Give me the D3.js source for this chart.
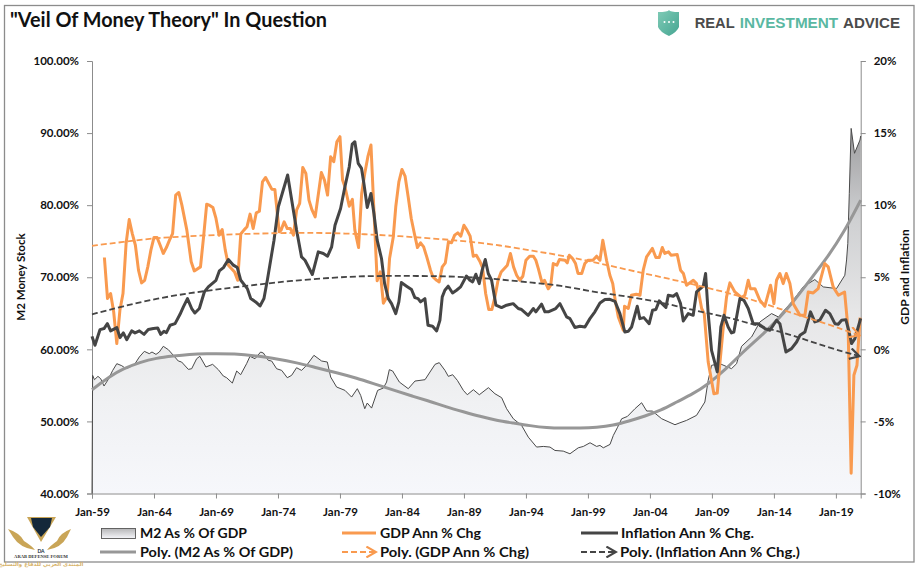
<!DOCTYPE html>
<html>
<head>
<meta charset="utf-8">
<script src="https://cdn.jsdelivr.net/npm/d3@7/dist/d3.min.js"></script>
<style>
  html, body { margin: 0; padding: 0; background: #fff; }
  text { font-family: Lato, "Noto Sans", sans-serif; font-weight: 700; fill: #111; }
</style>
</head>
<body>
<svg id="chart" width="924" height="569"></svg>
<script>
// values, x is decimal year
const m2Years = [1959,1959.05,1959.2,1959.48,1959.7,1959.97,1960.3,1960.67,1961,1961.4,1961.74,1962.06,1962.47,1962.82,1963.22,1963.62,1963.84,1964.16,1964.43,1964.75,1965.16,1965.56,1965.96,1966.23,1966.77,1967.04,1967.44,1967.7,1968.19,1968.73,1969.19,1969.59,1969.86,1970.32,1970.67,1970.99,1971.47,1971.74,1972.15,1972.6,1972.82,1973.22,1973.49,1973.89,1974.3,1974.75,1975.1,1975.5,1975.9,1976.31,1976.9,1977.52,1977.98,1978.25,1978.73,1979.4,1979.94,1980.4,1980.67,1981,1981.2,1981.55,1982.04,1982.5,1982.76,1982.98,1983.25,1983.79,1984.51,1985.05,1985.86,1986.26,1986.67,1987.01,1987.47,1987.74,1988.09,1988.47,1988.95,1989.27,1989.76,1990.24,1990.97,1991.5,1992.04,1992.44,1992.98,1993.65,1994.19,1994.86,1995.4,1995.94,1996.34,1997.01,1997.55,1998.22,1998.63,1999.17,1999.7,1999.97,2000.24,2000.78,2001.05,2001.37,2001.72,2002.18,2002.79,2003.33,2003.74,2004.19,2004.95,2006.02,2006.42,2006.95,2007.76,2008.43,2008.7,2008.97,2009.64,2010.58,2010.99,2011.39,2012.2,2012.87,2013.81,2014.35,2015.56,2016.36,2017.3,2017.98,2019.05,2019.72,2019.86,2019.96,2020.08,2020.23,2020.5,2020.94,2021];
const m2Values = [40,56.39,55.79,56.25,55.93,54.91,55.79,57.08,58.01,57.73,57.31,57.55,58.01,58.94,59.72,59.4,59.63,59.3,59.63,60.42,59.95,59.17,58.38,58.24,57.22,57.31,58.7,59.03,57.55,57.92,57.18,56.3,56.06,55.32,56.99,56.48,58.01,59.03,58.7,59.63,59.49,58.47,58.38,57.31,57.08,56.06,56.39,57.45,57.08,57.78,59.17,58.38,58.24,56.16,54.77,54.31,53.38,54.54,53.61,51.76,52.55,51.85,54.31,54.63,55.46,57.18,56.99,55.46,54.54,55.6,55.79,56.85,57.92,58.15,57.08,56.25,56.48,55.69,54.31,53.7,54.4,53.7,54.68,53.84,53.29,51.76,50.37,49.44,47.82,46.44,46.53,46.44,45.97,45.88,45.51,46.34,46.53,47.04,46.53,46.67,46.34,46.81,48.06,49.12,50.37,50.69,51.76,52.59,51.44,51.44,50.37,49.54,49.81,50.14,50.84,52.69,55.7,57.78,58.01,57.32,58.01,60.42,61.72,63.8,64.96,64.5,66.81,68.66,69.68,68.66,68.43,70.28,72.4,74.7,81.6,90.65,87.2,89.03,89.6];

const gdpYears = [1960,1960.25,1960.5,1960.75,1961,1961.25,1961.5,1961.75,1962,1962.25,1962.5,1962.75,1963,1963.25,1963.5,1963.75,1964,1964.25,1964.5,1964.75,1965,1965.25,1965.5,1965.75,1966,1966.25,1966.65,1967,1967.25,1967.75,1968,1968.25,1968.5,1968.75,1969,1969.25,1969.5,1969.75,1970,1970.5,1970.75,1971,1971.25,1971.5,1971.75,1972,1972.25,1972.5,1972.75,1973,1973.5,1973.75,1974,1974.1,1974.25,1974.5,1974.75,1975,1975.25,1975.5,1975.75,1976,1976.25,1976.5,1976.75,1977,1977.5,1977.75,1978,1978.25,1978.5,1978.75,1979,1979.21,1979.4,1979.75,1980,1980.2,1980.5,1980.75,1981,1981.25,1981.5,1981.75,1982,1982.25,1982.5,1982.8,1983,1983.3,1983.5,1983.75,1984,1984.25,1984.5,1984.75,1985,1985.25,1985.5,1985.75,1986,1986.3,1986.5,1986.8,1987,1987.25,1987.5,1987.75,1988,1988.25,1988.5,1988.75,1989,1989.25,1989.5,1989.75,1990,1990.3,1990.5,1990.75,1991,1991.25,1991.5,1991.75,1992,1992.5,1992.75,1993,1993.25,1993.5,1993.75,1994,1994.3,1994.6,1994.8,1995,1995.3,1995.5,1995.8,1996,1996.2,1996.5,1996.7,1997.15,1997.33,1997.5,1997.76,1998,1998.2,1998.5,1998.75,1999,1999.4,1999.7,1999.97,2000.2,2000.5,2000.77,2001,2001.2,2001.45,2001.85,2001.95,2002.25,2002.5,2002.9,2003.2,2003.46,2003.73,2004.2,2004.48,2004.75,2005,2005.2,2005.5,2005.7,2006.2,2006.47,2006.7,2006.95,2007.5,2007.76,2007.9,2008.17,2008.38,2008.7,2009.16,2009.43,2009.64,2009.97,2010.18,2010.45,2010.85,2011.4,2011.66,2011.93,2012.1,2012.47,2012.87,2013.27,2013.73,2014,2014.21,2014.48,2014.75,2015,2015.29,2015.56,2016.1,2016.5,2016.77,2017.17,2017.57,2018.1,2018.38,2018.78,2019.2,2019.7,2019.99,2020.23,2020.45,2020.7,2020.95];
const gdpValues = [6.37,3.52,3.87,2.59,0.4,2.71,3.87,7.34,9,8.03,7.22,5.49,4.61,4.79,5.72,6.88,7.76,7.76,7.22,6.65,7.06,7.57,8.03,10.7,10.88,10,8.27,6.07,5.44,5.72,7.8,10.07,9.98,9.84,9.08,7.92,8.31,6.88,5.84,5.37,4.79,8,8.27,8.5,9.38,8.38,9.47,9.58,11.62,11.92,11.11,11.09,8.96,8.15,8.27,8.84,8.38,8.38,7.92,9.65,10.12,12.62,12.2,10.35,9.65,9.19,12.27,11.74,10.7,13.36,13.01,14.4,14.75,11.74,11.28,9.93,10.4,8.27,7.06,10.81,12.2,13.36,14.17,9.42,4.75,5.37,3.2,3.64,6.3,7.8,9.89,11.62,12.48,12.02,10.58,9.08,8.03,7.06,7.39,7.11,6.41,5.49,5.02,4.79,4.68,5.72,6,7.46,7.39,7.92,8.08,7.85,8.61,8.27,7.85,6.46,6.53,6.07,5.67,3.87,2.76,2.76,3.64,4.79,5.37,5.84,6.65,5.72,5.14,4.79,5.07,6.18,6.46,6.46,6.18,5.6,4.61,4.79,4.2,4.45,5.95,5.84,6.23,6.18,6,6.53,6.3,5.95,5.26,5.26,5.95,6.18,6.18,6.46,6.18,7.57,6.18,5.14,4.56,3.4,2.25,1.32,2.99,2.83,3.75,3.82,3.75,5.49,6.41,7,6.37,6.37,7.06,6.65,6.76,6.53,6.58,5.49,5.26,4.45,4.79,4.56,4.1,2.83,2.48,-0.88,-3.08,-3.03,-0.99,2.02,3.64,4.61,3.98,3.59,3.75,4.79,4.21,4.21,3.4,2.99,4.45,3.17,4.79,5.26,4.56,5.26,4.56,3.17,2.36,2.36,3.98,3.91,4.21,5.95,5.72,4.33,3.75,3.98,1.32,-8.6,-1.8,-1.1,2.2];

const inflYears = [1959,1959.24,1959.65,1959.97,1960.24,1960.5,1961,1961.26,1961.53,1961.8,1962.2,1962.47,1962.82,1963.2,1963.54,1963.95,1964.3,1964.54,1964.8,1965,1965.3,1965.7,1966.1,1966.37,1966.7,1967.04,1967.3,1967.66,1968.06,1968.38,1969,1969.27,1969.6,1970,1970.4,1970.72,1971,1971.53,1971.8,1972.2,1972.55,1972.87,1973.14,1973.68,1974.03,1974.78,1975.24,1975.5,1975.9,1976.18,1976.77,1977.25,1977.66,1978,1978.33,1978.6,1979.05,1979.4,1979.75,1979.99,1980.2,1980.47,1980.74,1980.93,1981.2,1981.5,1981.74,1982,1982.35,1982.6,1982.9,1983.16,1983.5,1983.75,1983.95,1984.37,1984.77,1985.04,1985.3,1985.5,1985.85,1986.1,1986.47,1986.8,1987.06,1987.25,1987.46,1987.73,1988.08,1988.4,1988.73,1989.2,1989.48,1989.7,1989.96,1990.23,1990.47,1990.72,1990.96,1991.23,1991.58,1992.03,1992.44,1992.97,1993.38,1993.65,1994.18,1994.6,1994.8,1995.26,1995.53,1995.8,1996.4,1996.74,1997.28,1997.55,1997.95,1998.35,1998.76,1999.16,1999.56,1999.97,2000.37,2000.77,2001.18,2001.58,2001.98,2002.25,2002.52,2002.98,2003.19,2003.51,2003.94,2004.21,2004.48,2004.75,2005.29,2005.48,2005.88,2006.15,2006.47,2006.69,2007.09,2007.49,2007.76,2008.3,2008.49,2008.7,2008.97,2009.43,2009.72,2009.97,2010.31,2010.58,2010.77,2011.26,2011.58,2011.93,2012.33,2012.73,2013.27,2013.68,2014.21,2014.48,2014.97,2015.42,2015.83,2016.1,2016.5,2016.77,2016.95,2017.3,2017.7,2018.16,2018.51,2018.92,2019.19,2019.46,2019.8,2020.07,2020.26,2020.53,2020.8,2021];
const inflValues = [0.9,0.28,1.37,1.44,1.78,1.28,1.51,0.81,1.14,0.67,1.28,1.14,1.28,1.04,1.37,1.44,1.48,1.04,1.25,1.16,1.67,1.78,2.43,2.94,3.52,2.83,2.52,2.83,3.98,4.33,4.79,5.44,5.67,6.23,5.84,5.67,4.79,4.21,3.52,3.29,3.01,3.52,4.79,7.57,9.89,12.09,9.65,8.27,6.41,6.18,5.19,6.76,6.65,6.46,7.11,8.61,9.77,11.28,12.66,14.24,14.4,12.9,12.55,11.5,9.84,10.81,9.42,7.57,6.3,4.56,3.52,3.17,2.48,3.29,4.63,4.38,4.15,3.59,3.52,3.29,3.52,1.67,1.6,1.28,2.01,3.64,4.1,4.38,3.91,4.1,4.33,5.09,4.79,4.68,5.21,4.56,5.49,6.23,5.26,4.79,3.06,2.9,3.06,3.17,2.83,2.76,2.36,2.83,2.6,3.13,2.6,2.6,2.83,3.17,2.25,2.13,1.51,1.6,1.55,2.13,2.6,3.22,3.45,3.47,3.33,2.48,1.2,1.25,1.55,2.99,2.13,2.2,1.78,2.71,2.76,3.36,2.9,3.75,3.68,3.87,3.17,1.97,2.48,2.36,3.98,4.38,5.26,2.48,-0.07,-1.57,1.55,2.36,1.55,1.14,1.2,3.52,3.4,2.83,1.78,1.78,1.44,1.32,2.02,1.78,-0.18,0.05,0.51,0.97,1.2,2.02,2.6,1.9,2.02,2.71,2.48,1.78,1.74,2.02,2.06,1.2,0.4,0.74,1.55,2.15];

// trend lines, traced by eye too
const m2PolyYears = [1959,1960.45,1961.5,1962.87,1964.2,1965.56,1966.9,1968,1970.67,1972.3,1973.9,1975.5,1977.1,1978.73,1980.34,1981.96,1983.57,1984.9,1986.26,1987.6,1988.95,1990.3,1991.64,1993,1994.33,1995.67,1997,1998.36,1999.7,2001.05,2002.3,2003.6,2004.9,2006.15,2007.49,2008.57,2010.18,2011.5,2012.87,2014.21,2015.56,2016.9,2018.25,2019.6,2021];
const m2PolyValues = [54.4,56.25,57.3,58.2,58.8,59.07,59.3,59.4,59.4,59.07,58.7,58.15,57.45,56.76,56.02,55.09,54.21,53.47,52.78,52,51.34,50.69,50.14,49.77,49.4,49.12,49.07,49.07,49.17,49.44,50.05,50.74,51.53,52.69,53.85,55,57.32,59.63,61.72,63.9,66.58,69.59,72.6,76.07,80.7];

const gdpPolyYears = [1959,1961.5,1964.2,1966.9,1969.6,1972.3,1975,1977.7,1981.1,1983.8,1986.5,1989.2,1991.9,1994.6,1996.74,1999.43,2002.1,2004.8,2007.5,2010.18,2012.87,2015.56,2018.25,2020.9];
const gdpPolyValues = [7.18,7.45,7.73,7.85,7.96,8.03,8.08,8.08,7.99,7.85,7.69,7.5,7.22,6.83,6.53,6.07,5.53,5.04,4.5,3.95,3.29,2.48,1.78,0.97];

const inflPolyYears = [1959,1961.5,1964.2,1966.9,1969.6,1972.3,1975,1978.46,1981.1,1983.8,1986.5,1989.2,1991.9,1994.6,1996.74,1999.43,2002.1,2004.8,2007.5,2010.18,2012.87,2015.56,2018.25,2020.9];
const inflPolyValues = [2.43,2.99,3.52,3.91,4.21,4.49,4.75,4.98,5.09,5.09,5.09,5.02,4.86,4.61,4.45,3.98,3.68,3.29,2.71,2.25,1.6,0.97,0.16,-0.48];

const xTickYears = [1959,1964,1969,1974,1979,1984,1989,1994,1999,2004,2009,2014,2019];
const xTickLabels = ['Jan-59','Jan-64','Jan-69','Jan-74','Jan-79','Jan-84','Jan-89','Jan-94','Jan-99','Jan-04','Jan-09','Jan-14','Jan-19'];
const leftTicks = [40,50,60,70,80,90,100];
const rightTicks = [-10,-5,0,5,10,15,20];

const ORANGE = '#f99a4f', DARK = '#454545', GREY = '#979797', AXIS = '#8c8c8c';

const svg = d3.select('#chart');
const x = d3.scaleLinear().domain([1959, 2021]).range([92, 860.7]);
const yLeft = d3.scaleLinear().domain([40, 100]).range([493.5, 61]);
const yRight = d3.scaleLinear().domain([-10, 20]).range([493.5, 61]);

// outer frame
svg.append('rect').attr('x', 4.5).attr('y', 5.5).attr('width', 909.5).attr('height', 556.5)
  .attr('fill', '#fff').attr('stroke', AXIS).attr('stroke-width', 1.3);

const defs = svg.append('defs');
const grad = defs.append('linearGradient').attr('id', 'areaFill')
  .attr('gradientUnits', 'userSpaceOnUse').attr('x1', 0).attr('x2', 0).attr('y1', 128).attr('y2', 493.5);
[[0, '#9d9d9f'], [0.25, '#cfd0d2'], [0.5, '#e6e6e7'], [0.75, '#f0f1f3'], [1, '#f6f7fb']].forEach(s => {
  grad.append('stop').attr('offset', s[0]).attr('stop-color', s[1]);
});
const swatchGrad = defs.append('linearGradient').attr('id', 'swatchFill').attr('x1', 0).attr('x2', 0).attr('y1', 0).attr('y2', 1);
[[0, '#b5b5b7'], [1, '#f6f7fb']].forEach(s => {
  swatchGrad.append('stop').attr('offset', s[0]).attr('stop-color', s[1]);
});
function arrowMarker(id, color) {
  defs.append('marker').attr('id', id).attr('viewBox', '0 0 10 10').attr('refX', 9).attr('refY', 5)
    .attr('markerUnits', 'userSpaceOnUse').attr('markerWidth', 13).attr('markerHeight', 12).attr('orient', 'auto')
    .append('path').attr('d', 'M1,0.5 L9,5 L1,9.5').attr('fill', 'none').attr('stroke', color).attr('stroke-width', 1.8);
}
arrowMarker('arrowOrange', ORANGE);
arrowMarker('arrowDark', DARK);

function zip(xs, ys) { return xs.map((d, i) => [d, ys[i]]); }
const lineOn = (scale, curve) => d3.line().x(d => x(d[0])).y(d => scale(d[1])).curve(curve || d3.curveLinear);

// M2 area
const m2Data = zip(m2Years, m2Values);
svg.append('path').datum(m2Data)
  .attr('d', d3.area().x(d => x(d[0])).y0(yLeft(40)).y1(d => yLeft(d[1])))
  .attr('fill', 'url(#areaFill)');

// axes
function styleAxis(g) {
  g.selectAll('path, line').attr('stroke', AXIS).attr('stroke-width', 1);
}
const axisBottom = d3.axisBottom(x).tickValues(xTickYears).tickSizeOuter(0).tickSize(5)
  .tickFormat((d, i) => xTickLabels[i]);
svg.append('g').attr('transform', 'translate(0,493.5)').call(axisBottom).call(styleAxis)
  .selectAll('text').attr('dy', 0).attr('y', 22).style('font-size', '11.5px').style('font-family', 'Lato').style('font-weight', 700);
const axisLeft = d3.axisLeft(yLeft).tickValues(leftTicks).tickSizeOuter(0).tickSize(5).tickFormat(d => d.toFixed(2) + '%');
svg.append('g').attr('transform', 'translate(92,0)').call(axisLeft).call(styleAxis)
  .selectAll('text').attr('x', -13).style('font-size', '11.5px').style('font-family', 'Lato').style('font-weight', 700);
const axisRight = d3.axisRight(yRight).tickValues(rightTicks).tickSizeOuter(0).tickSize(5).tickFormat(d => d + '%');
svg.append('g').attr('transform', 'translate(860.7,0)').call(axisRight).call(styleAxis)
  .selectAll('text').attr('x', 13).style('font-size', '11.5px').style('font-family', 'Lato').style('font-weight', 700);

// series
svg.append('path').datum(m2Data).attr('d', lineOn(yLeft))
  .attr('fill', 'none').attr('stroke', '#4a4a4a').attr('stroke-width', 1);
svg.append('path').datum(zip(m2PolyYears, m2PolyValues)).attr('d', lineOn(yLeft, d3.curveBasis))
  .attr('fill', 'none').attr('stroke', GREY).attr('stroke-width', 3);
svg.append('path').datum(zip(gdpYears, gdpValues)).attr('d', lineOn(yRight))
  .attr('fill', 'none').attr('stroke', ORANGE).attr('stroke-width', 3).attr('stroke-linejoin', 'round');
svg.append('path').datum(zip(inflYears, inflValues)).attr('d', lineOn(yRight))
  .attr('fill', 'none').attr('stroke', DARK).attr('stroke-width', 3).attr('stroke-linejoin', 'round');
svg.append('path').datum(zip(gdpPolyYears, gdpPolyValues)).attr('d', lineOn(yRight, d3.curveBasis))
  .attr('fill', 'none').attr('stroke', ORANGE).attr('stroke-width', 1.8).attr('stroke-dasharray', '6 3')
  .attr('marker-end', 'url(#arrowOrange)');
svg.append('path').datum(zip(inflPolyYears, inflPolyValues)).attr('d', lineOn(yRight, d3.curveBasis))
  .attr('fill', 'none').attr('stroke', DARK).attr('stroke-width', 1.8).attr('stroke-dasharray', '6 3')
  .attr('marker-end', 'url(#arrowDark)');

// titles
svg.append('text').attr('x', 10).attr('y', 27).attr('textLength', 317).attr('lengthAdjust', 'spacingAndGlyphs')
  .style('font-size', '20px').text('"Veil Of Money Theory" In Question');
svg.append('text').attr('transform', 'translate(25,277) rotate(-90)').attr('text-anchor', 'middle')
  .style('font-size', '11.5px').text('M2 Money Stock');
svg.append('text').attr('transform', 'translate(909,277) rotate(-90)').attr('text-anchor', 'middle')
  .style('font-size', '12px').text('GDP and Inflation');

// legend, widths measured on the reference
const legendText = [
  ['M2 As % Of GDP', 140, 538, 107], ['GDP Ann % Chg', 380, 538, 101], ['Inflation Ann % Chg.', 621, 538, 133],
  ['Poly. (M2 As % Of GDP)', 140, 557, 153], ['Poly. (GDP Ann % Chg)', 380, 557, 149], ['Poly. (Inflation Ann % Chg.)', 620, 557, 180]
];
legendText.forEach(d => {
  svg.append('text').attr('x', d[1]).attr('y', d[2]).attr('textLength', d[3]).attr('lengthAdjust', 'spacingAndGlyphs')
    .style('font-size', '14px').text(d[0]);
});
svg.append('rect').attr('x', 101.5).attr('y', 528.5).attr('width', 34).attr('height', 10)
  .attr('fill', 'url(#swatchFill)').attr('stroke', '#555').attr('stroke-width', 0.9);
function legendLine(x1, x2, y, color, w, dashed, marker) {
  const l = svg.append('line').attr('x1', x1).attr('x2', x2).attr('y1', y).attr('y2', y)
    .attr('stroke', color).attr('stroke-width', w);
  if (dashed) l.attr('stroke-dasharray', '6 3');
  if (marker) l.attr('marker-end', marker);
}
legendLine(342, 376, 533, ORANGE, 3);
legendLine(581, 618, 533, DARK, 3);
legendLine(100, 136, 552, GREY, 3);
legendLine(342, 376, 552, ORANGE, 1.8, true, 'url(#arrowOrange)');
legendLine(581, 616, 552, DARK, 1.8, true, 'url(#arrowDark)');

// Real Investment Advice logo
const logoGrad = defs.append('linearGradient').attr('id', 'logoFill').attr('x1', 0).attr('x2', 1).attr('y1', 0).attr('y2', 1);
[[0, '#7fcbb6'], [1, '#46a592']].forEach(s => logoGrad.append('stop').attr('offset', s[0]).attr('stop-color', s[1]));
svg.append('path').attr('d', 'M658,12 Q668,12 669,10 Q670,12 679,12 L679,27 Q677,32 669,36 Q660,32 658,27 Z').attr('fill', 'url(#logoFill)');
[664.5, 669, 673.5].forEach(cx => svg.append('circle').attr('cx', cx).attr('cy', 22).attr('r', 1).attr('fill', '#fff'));
[['REAL', 694.7, 40, '#4b4b4b'], ['INVESTMENT', 739.7, 98.5, '#5ab8a2'], ['ADVICE', 843, 57, '#4b4b4b']].forEach(d => {
  svg.append('text').attr('x', d[1]).attr('y', 28).attr('textLength', d[2]).attr('lengthAdjust', 'spacingAndGlyphs')
    .style('font-family', '"Liberation Sans"').style('font-size', '14.5px').style('fill', d[3]).text(d[0]);
});

// forum watermark, bottom left
const wm = svg.append('g');
wm.append('path').attr('d', 'M27,517 L56,517 L41,542 Z').attr('fill', '#c9a557');
wm.append('path').attr('d', 'M31,518 L52,518 L50,527 L41,537 L33,527 Z').attr('fill', '#14283a');
wm.append('path').attr('d', 'M8,529 Q20,533 24,541 Q32,546 35,550 Q20,548 13,537 Z').attr('fill', '#c9a557');
wm.append('path').attr('d', 'M71,529 Q60,533 57,541 Q50,546 47,550 Q61,548 67,537 Z').attr('fill', '#c9a557');
wm.append('text').attr('x', 41).attr('y', 553).attr('text-anchor', 'middle').style('font-size', '5px').style('fill', '#14283a').text('DA');
wm.append('text').attr('x', 41).attr('y', 558).attr('text-anchor', 'middle')
  .style('font-family', '"Liberation Serif"').style('font-size', '4.6px').style('fill', '#333').text('ARAB DEFENSE FORUM');
wm.append('text').attr('x', 41).attr('y', 566).attr('text-anchor', 'middle').attr('direction', 'rtl')
  .style('font-family', '"DejaVu Sans"').style('font-size', '5.5px').style('fill', '#d8b36a').text('المنتدى العربي للدفاع والتسليح');
</script>
</body>
</html>
